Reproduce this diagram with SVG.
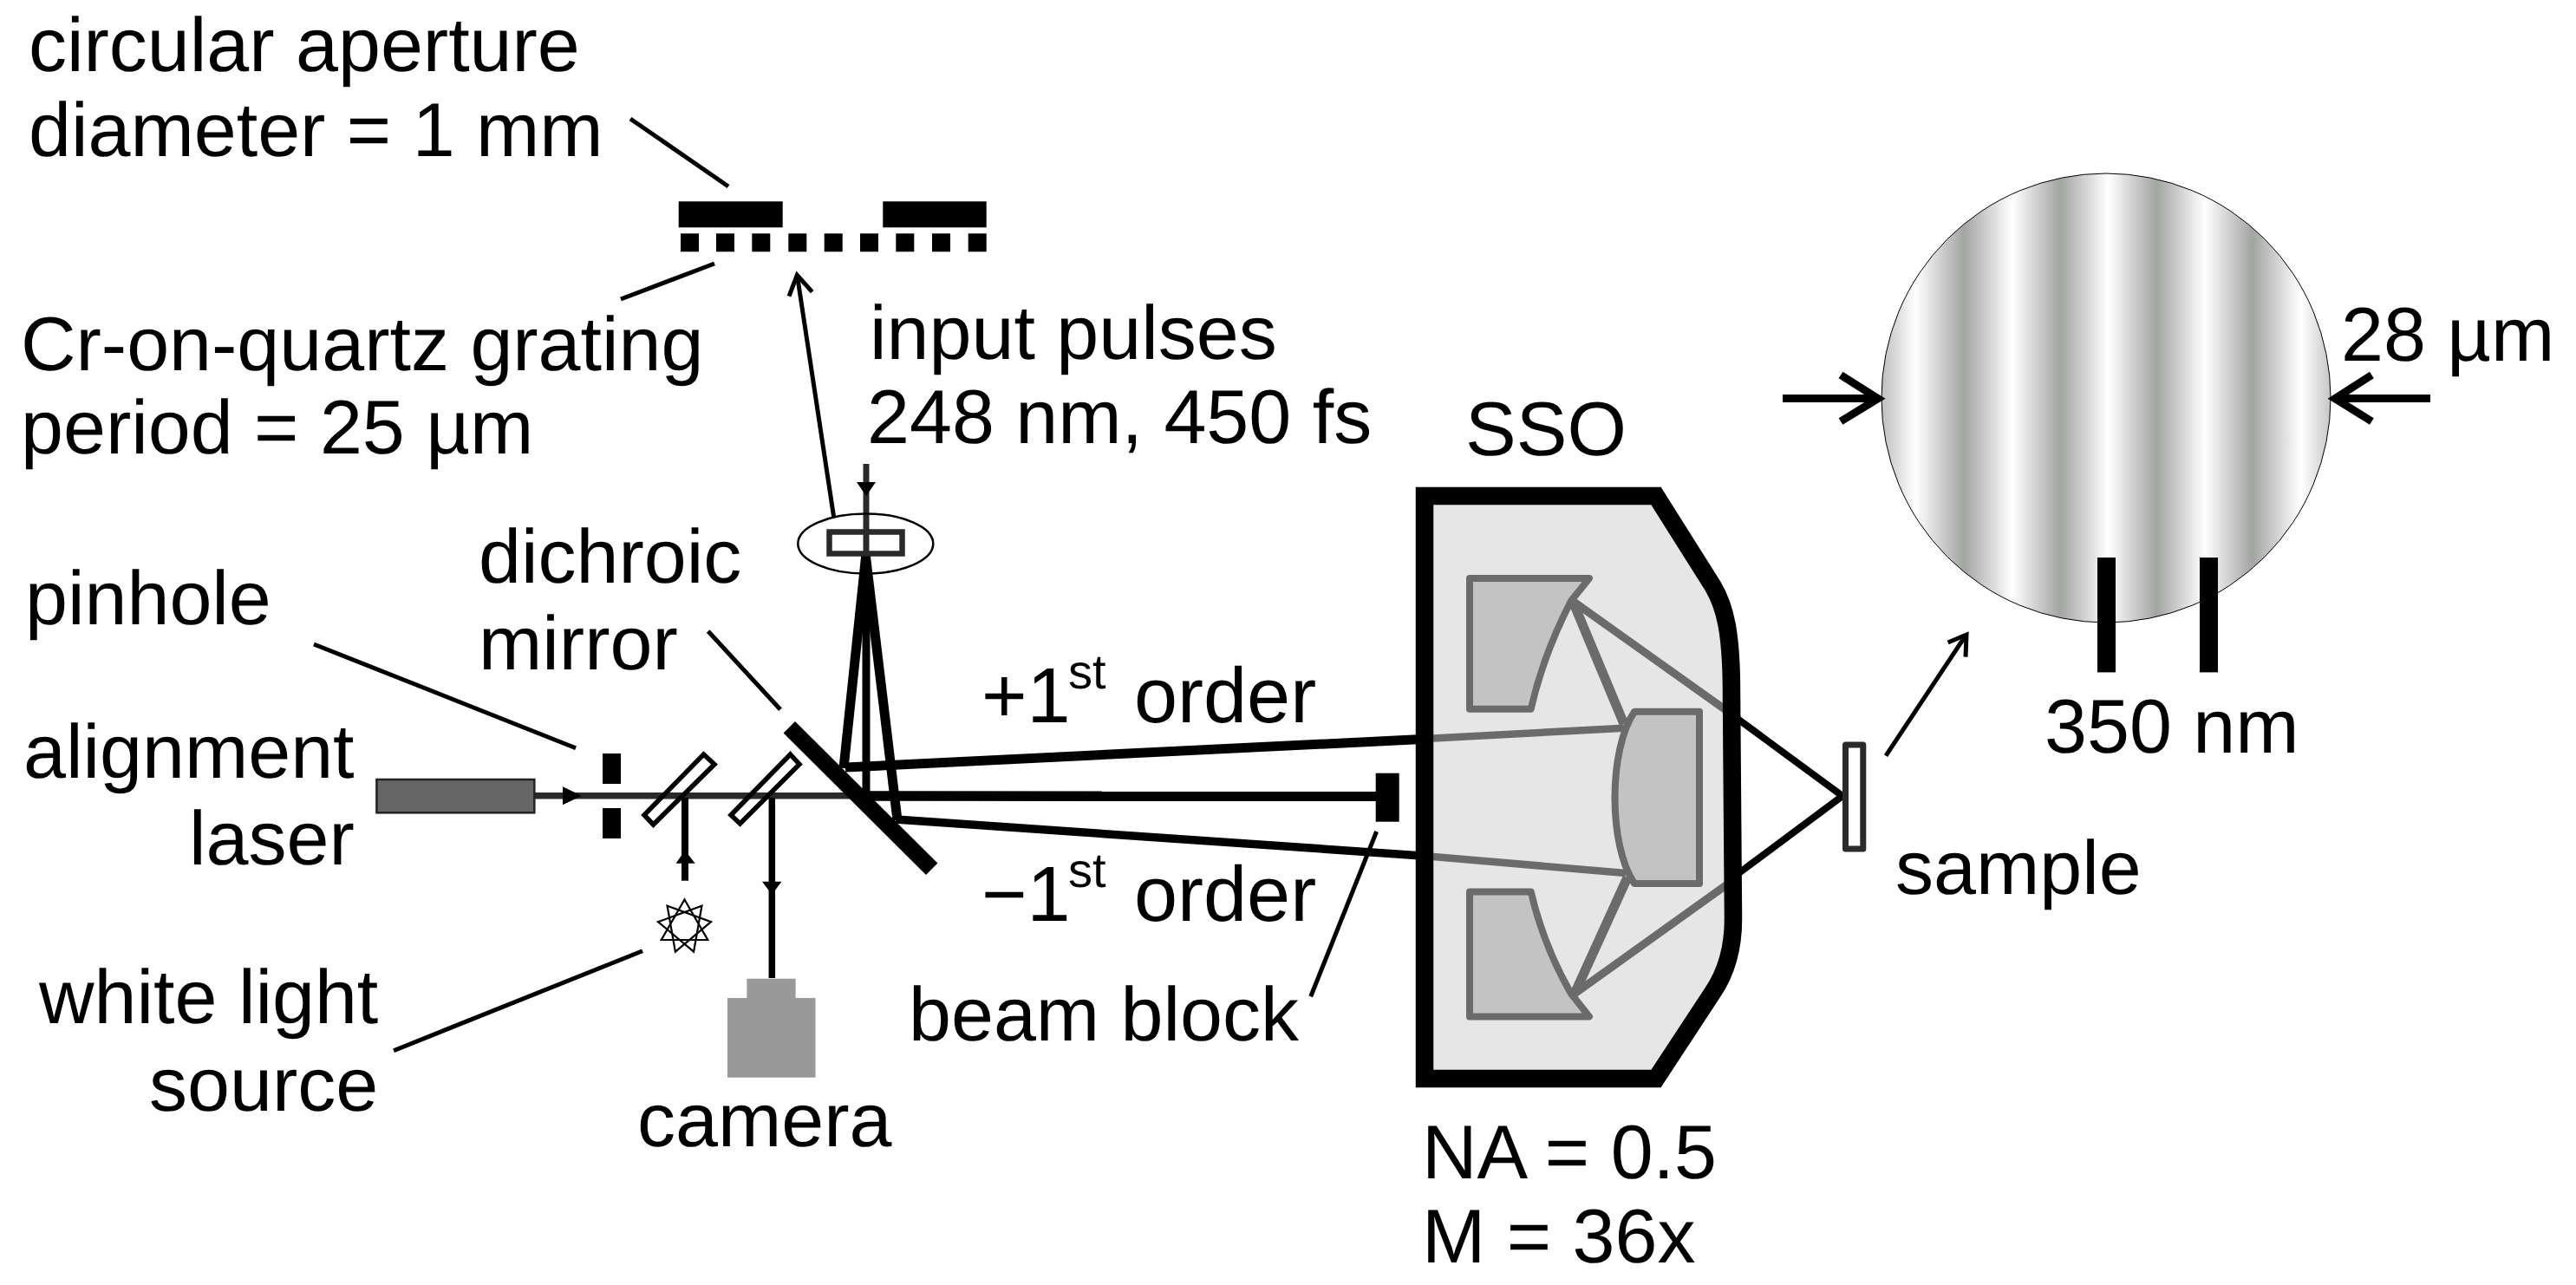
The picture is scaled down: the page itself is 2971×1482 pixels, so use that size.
<svg xmlns="http://www.w3.org/2000/svg" xmlns:xlink="http://www.w3.org/1999/xlink" width="2971" height="1482" viewBox="0 0 2971 1482">
<style>
text{font-family:"Liberation Sans",Arial,sans-serif;font-size:88px;fill:#000;text-rendering:geometricPrecision}
.sup{font-size:56px}
.ord{font-size:90px}
.lead{fill:none;stroke:#000;stroke-width:5}
.ray{fill:none;stroke:#000;stroke-linecap:butt}
.gray{fill:none;stroke:#6b6b6b}
.mir{fill:#c3c3c3;stroke:#6b6b6b;stroke-width:8;stroke-linejoin:round}
.bar{fill:#000}
.split{fill:none;stroke:#000;stroke-width:5.5}
</style>
<defs>
<linearGradient id="fringe" gradientUnits="userSpaceOnUse" x1="2431.5" y1="0" x2="2542.5" y2="0" spreadMethod="repeat">
<stop offset="0" stop-color="#fff"/><stop offset=".5" stop-color="#a2a4a2"/><stop offset="1" stop-color="#fff"/>
</linearGradient>
<polygon id="tri" points="789.5,1037.5 816.3,1084 762.7,1084" fill="none" stroke="#000" stroke-width="2.2"/>
</defs>
<g id="connectors">
<line class="lead" x1="727" y1="137" x2="840" y2="215"/>
<line class="lead" x1="824" y1="304" x2="716" y2="345"/>
<line class="lead" x1="362" y1="743" x2="664" y2="862.7"/>
<line class="lead" x1="816.7" y1="728" x2="900" y2="818.3"/>
<line class="lead" x1="454" y1="1211.7" x2="741" y2="1096.7"/>
<line class="lead" x1="1587.6" y1="959" x2="1511.7" y2="1149.3"/>
<line class="ray" stroke-width="5" x1="961.7" y1="596.7" x2="919.8" y2="320"/>
<polyline class="ray" stroke-width="5" points="910,341.7 919.3,317.3 936.7,336.7"/>
<line class="lead" x1="2175" y1="871.7" x2="2267" y2="733"/>
<polyline class="lead" points="2246.6,741 2268,732 2267,757.6"/>
<line x1="999" y1="535" x2="999" y2="640" stroke="#2a2a2a" stroke-width="7"/>
<polygon class="bar" points="988,556 1010,556 999,572"/>
<line x1="616" y1="917.7" x2="985" y2="917.7" stroke="#2a2a2a" stroke-width="7.5"/>
<polygon class="bar" points="649,907.3 649,928.3 671,917.7"/>
<line class="ray" stroke-width="8" x1="790" y1="920" x2="790" y2="1015.7"/>
<polygon class="bar" points="779.6,995.7 801.7,995.7 790,980.7"/>
<line class="ray" stroke-width="7.5" x1="890.3" y1="920" x2="890.3" y2="1128"/>
<polygon class="bar" points="879,1016.7 901.4,1016.7 890.3,1031.7"/>
<line class="ray" stroke-width="11" x1="999" y1="638" x2="973" y2="886"/>
<line class="ray" stroke-width="11" x1="998" y1="638" x2="1035" y2="946"/>
<line class="ray" stroke-width="9" x1="999" y1="638" x2="999" y2="925"/>
<line class="ray" stroke-width="11" x1="975" y1="885" x2="1640" y2="852.5"/>
<line class="ray" stroke-width="11.5" x1="990" y1="918" x2="1587" y2="918.3"/>
<line class="ray" stroke-width="9.5" x1="1033" y1="945" x2="1640" y2="987"/>
<polyline class="ray" stroke-width="8" points="2004,829 2125,918 2004,1008" stroke-linejoin="round"/>
</g>
<g id="sso">
<path d="M1643 572H1910L1975 675C1990 700 1997 730 1997 800L1999 1060Q1999 1110 1975 1145L1910 1244H1643Z" fill="#e6e6e6"/>
<path class="mir" d="M1695 667H1833L1812 693Q1780 755 1765.7 817.7H1695Z"/>
<path class="mir" d="M1695 1028.4H1765.7Q1780 1090 1812 1146L1833 1172.4H1695Z"/>
<path class="mir" d="M1885 820.8H1960V1019H1885C1855 975 1855 865 1885 820.8Z"/>
<line class="gray" stroke-width="8.5" x1="1653" y1="851.5" x2="1873" y2="839.7"/>
<line class="gray" stroke-width="8.5" x1="1653" y1="988" x2="1875" y2="1007"/>
<line class="gray" stroke-width="11" x1="1873" y1="835" x2="1815" y2="696"/>
<line class="gray" stroke-width="9" x1="1815" y1="694" x2="1992" y2="820"/>
<line class="gray" stroke-width="11" x1="1877" y1="1012" x2="1816" y2="1146"/>
<line class="gray" stroke-width="9" x1="1816" y1="1146" x2="1992" y2="1020"/>
<path d="M1643 572H1910L1975 675C1990 700 1997 730 1997 800L1999 1060Q1999 1110 1975 1145L1910 1244H1643Z" fill="none" stroke="#000" stroke-width="20.5"/>
</g>
<g id="aperture">
<rect class="bar" x="782.7" y="232.3" width="120" height="30"/>
<rect class="bar" x="1018.3" y="232.3" width="119.4" height="30"/>
</g>
<g id="grating">
<rect class="bar" x="785" y="269.3" width="21" height="21"/>
<rect class="bar" x="826" y="269.3" width="21" height="21"/>
<rect class="bar" x="867.3" y="269.3" width="21" height="21"/>
<rect class="bar" x="909.3" y="269.3" width="21" height="21"/>
<rect class="bar" x="950.7" y="269.3" width="21" height="21"/>
<rect class="bar" x="992" y="269.3" width="21" height="21"/>
<rect class="bar" x="1033.3" y="269.3" width="21" height="21"/>
<rect class="bar" x="1075" y="269.3" width="21" height="21"/>
<rect class="bar" x="1116.7" y="269.3" width="21" height="21"/>
</g>
<g id="lens">
<ellipse cx="998.3" cy="627" rx="78" ry="34.5" fill="none" stroke="#000" stroke-width="2.5"/>
<rect x="956.5" y="613.5" width="84" height="25" fill="none" stroke="#2a2a2a" stroke-width="6.5"/>
</g>
<g id="dichroic"><line x1="910.3" y1="838.7" x2="1074.7" y2="1002.3" stroke="#000" stroke-width="19"/></g>
<g id="pinhole">
<rect class="bar" x="695" y="869" width="21" height="35"/>
<rect class="bar" x="695" y="932" width="21" height="35"/>
</g>
<g id="laser"><rect x="434.4" y="899" width="181.9" height="38.3" fill="#666" stroke="#222" stroke-width="2.5"/></g>
<g id="splitter1"><polygon class="split" points="811.5,870 824,881.5 753.5,951 743,940"/></g>
<g id="splitter2"><polygon class="split" points="911.5,870 922,881.5 853.5,950 843,940"/></g>
<g id="lamp">
<use xlink:href="#tri" href="#tri"/>
<use xlink:href="#tri" href="#tri" transform="rotate(40 789.5 1068.5)"/>
<use xlink:href="#tri" href="#tri" transform="rotate(80 789.5 1068.5)"/>
</g>
<g id="camera">
<rect x="861.4" y="1128.7" width="56.2" height="23" fill="#999"/>
<rect x="839" y="1151" width="101.5" height="91.7" fill="#999"/>
</g>
<g id="block"><rect class="bar" x="1586.7" y="891.7" width="27" height="56"/></g>
<g id="sample"><rect x="2128.5" y="859" width="20.3" height="120" fill="#fff" stroke="#2a2a28" stroke-width="7" stroke-linejoin="round"/></g>
<g id="spot">
<circle cx="2429" cy="459" r="259" fill="url(#fringe)" stroke="#000" stroke-width="1"/>
<line x1="2056" y1="459.6" x2="2166" y2="459.6" stroke="#000" stroke-width="9"/>
<polyline points="2123,432.5 2166,459.6 2123,486" fill="none" stroke="#000" stroke-width="9"/>
<line x1="2803" y1="459.6" x2="2693" y2="459.6" stroke="#000" stroke-width="9"/>
<polyline points="2735.4,432.5 2693,459.6 2735.4,486" fill="none" stroke="#000" stroke-width="9"/>
<rect class="bar" x="2419" y="643" width="21" height="132.4"/>
<rect class="bar" x="2537" y="643" width="21" height="132.4"/>
</g>
<g id="labels">
<text x="33" y="82">circular aperture</text>
<text x="33" y="180">diameter = 1 mm</text>
<text x="24" y="427">Cr-on-quartz grating</text>
<text x="24" y="523">period = 25 µm</text>
<text x="1003" y="414">input pulses</text>
<text x="1000" y="511">248 nm, 450 fs</text>
<text x="1690" y="525">SSO</text>
<text x="552" y="672">dichroic</text>
<text x="552" y="772">mirror</text>
<text x="29" y="720">pinhole</text>
<text x="27" y="897">alignment</text>
<text x="218" y="997">laser</text>
<text x="45" y="1180">white light</text>
<text x="172" y="1281">source</text>
<text x="735" y="1322">camera</text>
<text class="ord" x="1132" y="833">+1</text><text class="sup" x="1232" y="794">st</text><text class="ord" x="1308" y="833">order</text>
<text class="ord" x="1132" y="1062">−1</text><text class="sup" x="1232" y="1023">st</text><text class="ord" x="1308" y="1062">order</text>
<text x="1048" y="1200">beam block</text>
<text x="2186" y="1031">sample</text>
<text x="1640" y="1359">NA = 0.5</text>
<text x="1640" y="1456">M = 36x</text>
<text x="2700" y="416">28 µm</text>
<text x="2358" y="868">350 nm</text>
</g>
</svg>
